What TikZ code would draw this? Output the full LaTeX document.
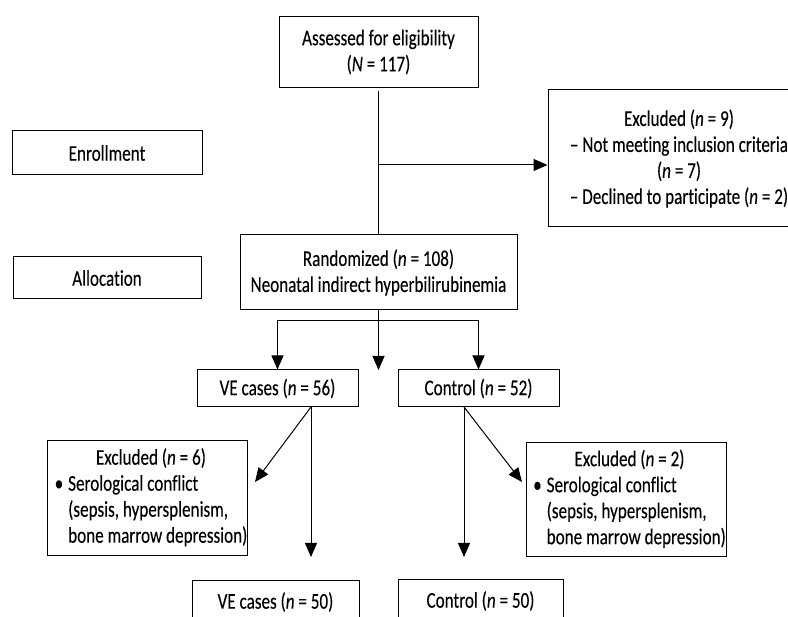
\documentclass[tikz,border=0pt]{standalone}
\usepackage{fontspec}
\setmainfont{Carlito}[FakeStretch=0.76,FakeBold=0.15,Ligatures=NoCommon]
\usepackage{tikz}
\usetikzlibrary{positioning,arrows.meta}
\newcommand{\serology}[1]{\begin{tabular}{@{}l@{\hspace{5pt}}l@{}}
  \multicolumn{2}{c}{Excluded (\textit{n} = #1)}\\
  \textbullet & Serological conflict\\
   & (sepsis, hypersplenism,\\
   & bone marrow depression)
\end{tabular}}

\begin{document}
\begin{tikzpicture}[x=1pt,y=-1pt,line width=1pt,
        font=\fontsize{22.5}{26}\selectfont,
        box/.style={draw,inner sep=0pt,align=center},
        >={Triangle[length=14pt,width=12pt]}]
                \useasboundingbox (0,0) rectangle (788,617);
                \node[box,minimum width=199pt,minimum height=71pt] (assess) at (378.5,52) {Assessed for eligibility\\(\textit{N} = 117)};
                \node[box,minimum width=190pt,minimum height=44pt] (enroll) at (107,153) {Enrollment};
                \node[box,minimum width=262pt,minimum height=137pt] (excl9) at (679,158.5) {Excluded (\textit{n} = 9)\\\textendash{} Not meeting inclusion criteria\\(\textit{n} = 7)\\\textendash{} Declined to participate (\textit{n} = 2)};
                \node[box,minimum width=188pt,minimum height=42pt] (alloc) at (107,278) {Allocation};
                \node[box,minimum width=277pt,minimum height=75pt] (random) at (378.5,272.5) {Randomized (\textit{n} = 108)\\Neonatal indirect hyperbilirubinemia};
                \node[box,minimum width=161pt,minimum height=37pt] (ve56) at (277.5,388.5) {VE cases (\textit{n} = 56)};
                \node[box,minimum width=161pt,minimum height=37pt,right=39pt of ve56] (ctl52) {Control (\textit{n} = 52)};
                \node[box,minimum width=199pt,minimum height=115pt] (excl6) at (147.5,498.5) {\hspace*{7pt}\serology{6}};
                \node[box,minimum width=200pt,minimum height=114pt] (excl2) at (626,500) {\hspace*{7pt}\serology{2}};
                \node[box,minimum width=167pt,minimum height=42pt] (ve50) at (275.5,602) {VE cases (\textit{n} = 50)};
                \node[box,minimum width=165pt,minimum height=42pt] (ctl50) at (480.5,601) {Control (\textit{n} = 50)};
                \coordinate (side) at (378.5,165);
                \coordinate (fork) at (378.5,321);
                \coordinate (mid) at (378.5,370);
                \coordinate (veout) at (311,407);
                \coordinate (ctlout) at (464,407);
                \coordinate (vedrop) at (311,557);
                \coordinate (ctldrop) at (464,557);
                \coordinate (vex) at (255,482);
                \coordinate (ctlx) at (522,482);
                \draw[shorten <=3pt] (assess) -- (random);
                \draw[->] (side) -- (side -| excl9.west);
                \draw (random) -- (fork);
                \draw[->] (fork) -- (mid);
                \draw[->] (fork) -| (ve56);
                \draw[->] (fork) -| (ctl52);
                \draw[->] (veout) -- (vex);
                \draw[->] (veout) -- (vedrop);
                \draw[->] (ctlout) -- (ctlx);
                \draw[->] (ctlout) -- (ctldrop);
            \end{tikzpicture}
\end{document}
